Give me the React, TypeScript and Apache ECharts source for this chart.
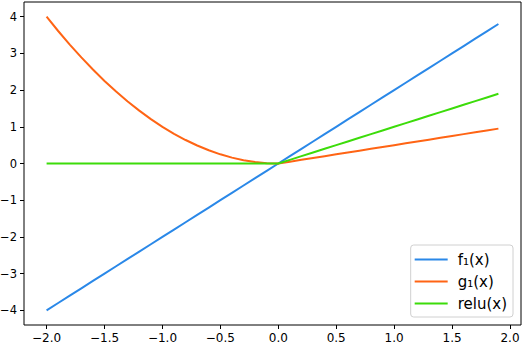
import React, { useEffect, useRef } from "react";
import * as echarts from "echarts";

const xs = [-2.0, -1.9, -1.8, -1.7, -1.6, -1.5, -1.4, -1.3, -1.2, -1.1, -1.0, -0.9, -0.8, -0.7, -0.6, -0.5, -0.4, -0.3, -0.2, -0.1, 0.0, 0.1, 0.2, 0.3, 0.4, 0.5, 0.6, 0.7, 0.8, 0.9, 1.0, 1.1, 1.2, 1.3, 1.4, 1.5, 1.6, 1.7, 1.8, 1.9];
const f1 = [-4.0, -3.8, -3.6, -3.4, -3.2, -3.0, -2.8, -2.6, -2.4, -2.2, -2.0, -1.8, -1.6, -1.4, -1.2, -1.0, -0.8, -0.6, -0.4, -0.2, 0.0, 0.2, 0.4, 0.6, 0.8, 1.0, 1.2, 1.4, 1.6, 1.8, 2.0, 2.2, 2.4, 2.6, 2.8, 3.0, 3.2, 3.4, 3.6, 3.8];
const g1 = [4.0, 3.61, 3.24, 2.89, 2.56, 2.25, 1.96, 1.69, 1.44, 1.21, 1.0, 0.81, 0.64, 0.49, 0.36, 0.25, 0.16, 0.09, 0.04, 0.01, 0.0, 0.05, 0.1, 0.15, 0.2, 0.25, 0.3, 0.35, 0.4, 0.45, 0.5, 0.55, 0.6, 0.65, 0.7, 0.75, 0.8, 0.85, 0.9, 0.95];
const relu = [0, 0, 0, 0, 0, 0, 0, 0, 0, 0, 0, 0, 0, 0, 0, 0, 0, 0, 0, 0, 0.0, 0.1, 0.2, 0.3, 0.4, 0.5, 0.6, 0.7, 0.8, 0.9, 1.0, 1.1, 1.2, 1.3, 1.4, 1.5, 1.6, 1.7, 1.8, 1.9];

const xTicks = [-2.0, -1.5, -1.0, -0.5, 0.0, 0.5, 1.0, 1.5, 2.0];
const yTicks = [-4, -3, -2, -1, 0, 1, 2, 3, 4];

const seriesNames = ["f\u2081(x)", "g\u2081(x)", "relu(x)"];
const colors = ["#2a88e8", "#ff6414", "#3cdc0a"];

const fmt = (v: number, d: number) => (v < 0 ? "\u2212" : "") + Math.abs(v).toFixed(d);

export default function App() {
  const ref = useRef<HTMLDivElement>(null);
  useEffect(() => {
    if (!ref.current) return;
    const chart = echarts.init(ref.current, undefined, { renderer: "svg" });
    const font = "DejaVu Sans";
    const pair = (ys: number[]) => xs.map((x, i) => [x, ys[i]]);
    chart.setOption({
      animation: false,
      backgroundColor: "#ffffff",
      grid: {
        left: 24,
        right: 1,
        top: 2,
        bottom: 21,
        containLabel: false,
        outerBoundsMode: "none",
        show: true,
        borderColor: "#000",
        borderWidth: 1,
        backgroundColor: "transparent",
      },
      xAxis: {
        type: "value",
        min: -2.195,
        max: 2.095,
        splitLine: { show: false },
        axisLine: { show: false, onZero: false },
        axisTick: { show: true, length: 4, lineStyle: { color: "#000" }, customValues: xTicks },
        axisLabel: {
          customValues: xTicks,
          color: "#000",
          fontFamily: font,
          fontSize: 12,
          margin: 7,
          hideOverlap: false,
          formatter: (v: number) => fmt(v, 1),
        },
      },
      yAxis: {
        type: "value",
        min: -4.4,
        max: 4.4,
        splitLine: { show: false },
        axisLine: { show: false, onZero: false },
        axisTick: { show: true, length: 4, lineStyle: { color: "#000" }, customValues: yTicks },
        axisLabel: {
          customValues: yTicks,
          color: "#000",
          fontFamily: font,
          fontSize: 11.5,
          margin: 7,
          formatter: (v: number) => fmt(v, 0),
        },
      },
      legend: {
        orient: "vertical",
        right: 9,
        bottom: 29,
        icon: "rect",
        itemWidth: 33,
        itemHeight: 2,
        itemGap: 7,
        padding: [7, 6, 6, 4],
        backgroundColor: "#fff",
        borderColor: "#d0d0d0",
        borderWidth: 1,
        borderRadius: 3,
        textStyle: { fontFamily: font, fontSize: 15, lineHeight: 15, color: "#000", padding: [0, 0, 0, 5] },
        data: seriesNames,
      },
      series: [f1, g1, relu].map((ys, i) => ({
        type: "line",
        name: seriesNames[i],
        data: pair(ys),
        symbol: "none",
        color: colors[i],
        lineStyle: { width: 2, color: colors[i] },
        z: 2 + i,
      })),
    });
    return () => chart.dispose();
  }, []);
  return (
    <div
      ref={ref}
      style={{ position: "fixed", left: 0, top: 0, width: 522, height: 346 }}
    />
  );
}
